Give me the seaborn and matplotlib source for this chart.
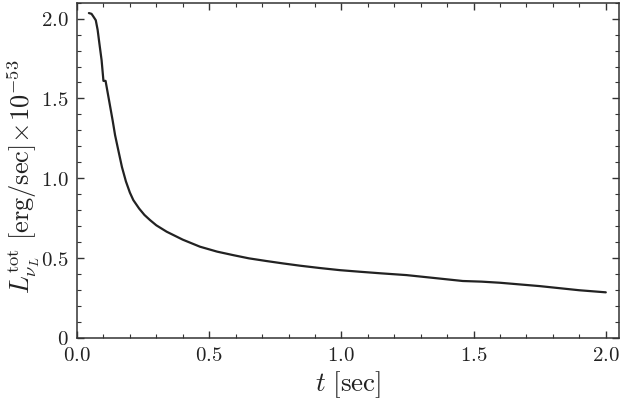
import numpy as np
import pandas as pd
import seaborn as sns
import matplotlib.pyplot as plt
from matplotlib.ticker import MultipleLocator, FuncFormatter

# -------------------------------
# Data
# -------------------------------
t_sec = [0.045, 0.055, 0.062, 0.071, 0.078, 0.085, 0.093, 0.100, 0.108, 0.121,
         0.135, 0.144, 0.156, 0.170, 0.185, 0.200, 0.213, 0.235, 0.255, 0.276,
         0.300, 0.339, 0.400, 0.465, 0.530, 0.591, 0.650, 0.717, 0.780, 0.843,
         0.920, 0.994, 1.070, 1.150, 1.246, 1.350, 1.459, 1.530, 1.600, 1.750,
         1.900, 2.000]
lum_tot = [2.035, 2.030, 2.013, 1.990, 1.930, 1.840, 1.740, 1.610, 1.610, 1.490,
           1.360, 1.270, 1.177, 1.070, 0.980, 0.910, 0.863, 0.810, 0.770, 0.738,
           0.705, 0.665, 0.615, 0.571, 0.540, 0.518, 0.498, 0.481, 0.466, 0.452,
           0.437, 0.424, 0.414, 0.404, 0.393, 0.375, 0.356, 0.352, 0.345, 0.324,
           0.298, 0.285]

df = pd.DataFrame({"t": t_sec, "L": lum_tot})

# -------------------------------
# Style
# -------------------------------
sns.set_theme(style="ticks")
plt.rcParams["mathtext.fontset"] = "cm"
plt.rcParams["font.family"] = ["DejaVu Serif"]

fig = plt.figure(figsize=(6.23, 4.07), dpi=100)
ax = fig.add_axes([0.1236, 0.170, 0.870, 0.8234])

sns.lineplot(data=df, x="t", y="L", ax=ax, color="#222222", linewidth=1.6)

ax.set_xlim(0, 2.05)
ax.set_ylim(0, 2.1)
ax.xaxis.set_major_locator(MultipleLocator(0.5))
ax.xaxis.set_minor_locator(MultipleLocator(0.1))
ax.yaxis.set_major_locator(MultipleLocator(0.5))
ax.yaxis.set_minor_locator(MultipleLocator(0.1))
ax.xaxis.set_major_formatter(FuncFormatter(lambda v, p: f"${v:.1f}$"))
ax.yaxis.set_major_formatter(
    FuncFormatter(lambda v, p: "$0$" if abs(v) < 1e-9 else f"${v:.1f}$"))

ax.tick_params(which="both", direction="in", top=True, right=True,
               color="#333333", labelsize=15, labelcolor="#222222")
ax.tick_params(which="major", length=5, width=1)
ax.tick_params(which="minor", length=2.8, width=0.8)
ax.tick_params(axis="x", which="major", pad=6)
ax.tick_params(axis="y", which="major", pad=6)
for sp in ax.spines.values():
    sp.set_color("#333333")
    sp.set_linewidth(1.1)

ax.set_xlabel(r"$t\ [\mathrm{sec}]$", fontsize=19.5, color="#222222", labelpad=3)
ax.set_ylabel(r"$L_{\nu_L}^{\mathrm{tot}}\ [\mathrm{erg/sec}]\!\times\!10^{-53}$",
              fontsize=19, color="#222222")
ax.yaxis.set_label_coords(-0.064, 0.48)

fig.savefig("out.png", dpi=100)
